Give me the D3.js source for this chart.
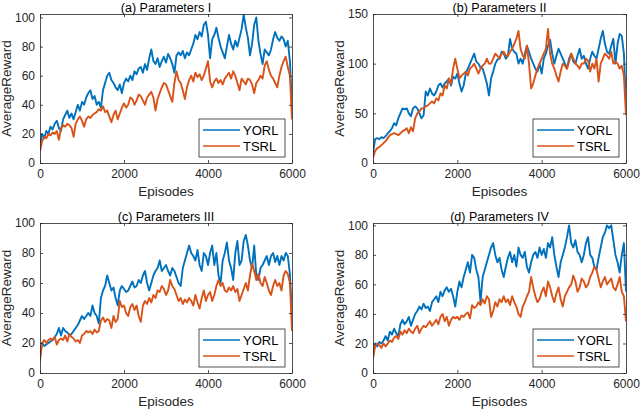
<!DOCTYPE html>
<html><head><meta charset="utf-8">
<script src="https://cdn.jsdelivr.net/npm/d3@7"></script>
<style>
html,body{margin:0;padding:0;background:#fff;}
svg{display:block;font-family:"Liberation Sans",Arial,Helvetica,sans-serif;}
</style></head>
<body><svg id="chart" width="640" height="409"></svg>
<script>
const EPISODE_STEP = 50;
const seriesNames = ["YORL", "TSRL"];
const panelTitles = ["(a) Parameters I", "(b) Parameters II", "(c) Parameters III", "(d) Parameters IV"];
const xTicks = [0, 2000, 4000, 6000];
const yTicksA = [0, 20, 40, 60, 80, 100];
const yTicksB = [0, 50, 100, 150];
const yTicksC = [0, 20, 40, 60, 80, 100];
const yTicksD = [0, 20, 40, 60, 80, 100];
const yMaxes = [102.4, 150, 100, 101.6];

const yorlA = [12,20,17,22,20,25,23,27,29,24,
22,30,33,36,31,34,30,35,40,36,
42,40,45,48,50,44,46,40,42,38,
50,55,60,62,57,55,52,50,54,48,
55,58,56,60,57,63,61,65,66,62,
68,64,72,78,70,68,72,66,70,73,
69,75,72,68,62,74,76,74,77,72,
76,74,78,82,88,85,90,87,95,97,
88,72,85,88,93,86,80,76,72,80,
88,82,78,84,80,86,92,102,93,86,
74,82,95,100,84,75,68,78,76,74,
78,85,90,86,84,87,85,80,84,70,
40];
const tsrlA = [8,15,18,17,20,19,21,20,22,16,
24,26,25,27,26,24,18,27,30,32,
29,25,30,32,31,33,34,35,37,36,
39,35,36,32,28,33,36,30,34,38,
41,38,40,45,44,40,43,47,46,43,
40,45,47,49,45,36,44,48,52,55,
54,50,46,42,55,63,57,55,50,44,
52,57,60,56,62,59,61,57,60,65,
70,56,52,56,58,55,57,54,58,60,
62,58,63,60,55,50,58,56,54,58,
57,54,48,55,57,60,58,67,70,64,
60,58,55,52,60,66,70,73,66,60,
30];
const yorlB = [10,24,25,24,26,25,27,30,32,35,
40,38,45,50,55,54,55,50,47,55,
57,55,50,45,48,72,68,75,70,68,
72,78,80,76,80,82,85,78,87,85,
90,80,72,78,90,95,100,105,110,102,
100,96,95,88,80,68,85,92,100,104,
105,112,110,105,108,125,115,112,110,100,
105,100,110,118,112,105,100,95,92,100,
90,105,110,118,124,110,100,108,115,110,
105,100,95,105,110,102,100,108,115,105,
108,100,95,105,112,108,105,115,125,133,
120,112,110,118,125,100,120,130,128,110,
60];
const tsrlB = [5,12,15,16,18,20,22,25,28,29,
30,29,28,30,32,33,35,30,36,32,
45,50,52,55,55,57,58,60,62,60,
65,63,70,68,78,75,85,80,95,105,
95,85,88,90,92,88,95,97,100,95,
90,95,98,100,105,100,100,105,110,108,
105,110,112,108,108,112,115,120,125,133,
115,108,105,118,100,75,80,88,95,100,
105,110,115,135,110,100,95,88,82,92,
100,98,95,102,110,105,100,98,95,100,
100,105,103,92,100,95,105,82,100,105,
110,108,105,112,100,102,100,95,98,88,
48];
const yorlC = [12,20,18,19,20,21,22,24,26,30,
25,30,28,27,25,26,28,30,32,35,
38,36,38,40,38,45,40,38,33,50,
55,58,65,60,55,57,50,45,55,58,
56,54,55,58,61,57,58,62,60,65,
68,60,55,60,65,68,70,75,68,70,
72,68,65,70,68,64,60,58,70,75,
80,85,80,78,75,82,72,68,80,78,
72,80,85,72,80,65,60,75,80,87,
75,70,62,80,88,72,75,88,92,85,
75,70,85,65,62,70,72,75,78,72,
78,80,74,78,72,78,75,80,78,66,
40];
const tsrlC = [8,20,22,20,22,23,22,24,19,22,
23,22,25,21,26,24,23,21,22,20,
25,26,28,27,28,26,29,27,28,35,
37,34,36,35,30,38,34,36,48,44,
45,40,38,44,46,42,45,38,34,45,
48,46,50,47,52,50,55,54,58,56,
52,55,62,58,56,52,48,50,46,49,
47,50,48,45,52,47,43,50,55,48,
52,54,48,52,58,62,58,60,55,54,
57,55,58,54,56,48,52,56,60,55,
65,73,68,62,66,60,58,64,60,55,
52,58,62,58,60,55,65,68,66,60,
28];
const yorlD = [12,20,18,21,20,22,25,22,28,26,
30,27,25,33,36,33,35,38,32,36,
40,42,45,43,47,44,45,42,48,50,
52,48,55,52,56,58,55,57,52,45,
55,62,58,65,70,75,68,80,78,70,
65,48,65,70,75,80,85,88,80,75,
78,70,65,72,78,82,75,80,72,85,
80,78,82,72,68,75,80,82,78,85,
80,84,78,88,85,92,80,72,65,75,
80,85,92,100,88,85,90,82,80,75,
80,88,92,80,78,72,70,78,85,92,
95,100,98,100,90,80,75,68,80,88,
55];
const tsrlD = [10,18,20,19,17,20,18,20,22,21,
24,25,23,28,26,29,27,30,28,27,
30,32,27,30,32,31,33,35,32,34,
36,33,38,40,35,38,32,36,38,37,
38,36,39,38,40,41,37,46,44,45,
48,46,50,47,52,50,38,42,48,45,
50,48,52,48,50,46,52,48,45,40,
38,45,48,52,55,65,58,52,48,50,
55,58,52,62,58,52,48,54,58,50,
45,52,55,58,60,66,62,55,58,64,
62,58,60,65,68,72,70,64,58,62,
65,60,62,64,58,56,60,65,55,52,
35];

// ---- build panels ----
const colors = {YORL: "#0072BD", TSRL: "#D95319"};
const ink = "#262626";
const panels = [
  {title: panelTitles[0], yorl: yorlA, tsrl: tsrlA, yTicks: yTicksA, yMax: yMaxes[0], left: 40, right: 292, top: 14, bottom: 163},
  {title: panelTitles[1], yorl: yorlB, tsrl: tsrlB, yTicks: yTicksB, yMax: yMaxes[1], left: 373, right: 626, top: 14, bottom: 163},
  {title: panelTitles[2], yorl: yorlC, tsrl: tsrlC, yTicks: yTicksC, yMax: yMaxes[2], left: 40, right: 292, top: 223, bottom: 373},
  {title: panelTitles[3], yorl: yorlD, tsrl: tsrlD, yTicks: yTicksD, yMax: yMaxes[3], left: 373, right: 626, top: 223, bottom: 373}
];

const svg = d3.select("#chart");

panels.forEach(p => {
  const w = p.right - p.left, h = p.bottom - p.top;
  const g = svg.append("g").attr("transform", `translate(${p.left},${p.top})`);
  const x = d3.scaleLinear().domain([0, 6000]).range([0, w]);
  const y = d3.scaleLinear().domain([0, p.yMax]).range([h, 0]);

  const clipId = "clip" + p.left + "_" + p.top;
  g.append("clipPath").attr("id", clipId).append("rect").attr("width", w).attr("height", h);

  const line = d3.line().x((d, i) => x(i * EPISODE_STEP)).y(d => y(d));
  const plot = g.append("g").attr("clip-path", `url(#${clipId})`);
  plot.append("path").datum(p.yorl).attr("d", line)
    .attr("fill", "none").attr("stroke", colors.YORL).attr("stroke-width", 1.9).attr("stroke-linejoin", "round");
  plot.append("path").datum(p.tsrl).attr("d", line)
    .attr("fill", "none").attr("stroke", colors.TSRL).attr("stroke-width", 1.9).attr("stroke-linejoin", "round");

  // axes (box with inward ticks on all sides)
  const styleAxis = sel => {
    sel.selectAll("path.domain").attr("stroke", ink).attr("stroke-width", 0.8);
    sel.selectAll(".tick line").attr("stroke", ink).attr("stroke-width", 0.8);
    sel.selectAll(".tick text").attr("fill", ink).attr("font-size", 12).attr("font-family", "Liberation Sans, Arial, sans-serif");
  };
  g.append("g").attr("transform", `translate(0,${h})`)
    .call(d3.axisBottom(x).tickValues(xTicks).tickSizeInner(-3).tickSizeOuter(0).tickPadding(6).tickFormat(d3.format("d")))
    .call(styleAxis);
  g.append("g")
    .call(d3.axisTop(x).tickValues(xTicks).tickSizeInner(-3).tickSizeOuter(0).tickFormat(""))
    .call(styleAxis);
  g.append("g")
    .call(d3.axisLeft(y).tickValues(p.yTicks).tickSizeInner(-3).tickSizeOuter(0).tickPadding(5).tickFormat(d3.format("d")))
    .call(styleAxis);
  g.append("g").attr("transform", `translate(${w},0)`)
    .call(d3.axisRight(y).tickValues(p.yTicks).tickSizeInner(-3).tickSizeOuter(0).tickFormat(""))
    .call(styleAxis);

  // title & labels
  svg.append("text").attr("x", p.left + w / 2).attr("y", p.top - 2.5)
    .attr("text-anchor", "middle").attr("font-size", 12.5).attr("fill", "#000").text(p.title);
  svg.append("text").attr("x", p.left + w / 2).attr("y", p.bottom + 33)
    .attr("text-anchor", "middle").attr("font-size", 13.5).attr("fill", ink).text("Episodes");
  svg.append("text")
    .attr("transform", `translate(${p.left - 29},${p.top + h / 2}) rotate(-90)`)
    .attr("text-anchor", "middle").attr("font-size", 13.5).attr("fill", ink).text("AverageReward");

  // legend
  const lw = 86, lh = 38;
  const lg = g.append("g").attr("transform", `translate(${w - lw - 7},${h - lh - 6})`);
  lg.append("rect").attr("width", lw).attr("height", lh).attr("fill", "#fff").attr("stroke", ink).attr("stroke-width", 0.8);
  seriesNames.forEach((name, i) => {
    const yy = 11 + i * 16;
    lg.append("line").attr("x1", 4).attr("x2", 41).attr("y1", yy).attr("y2", yy)
      .attr("stroke", colors[name]).attr("stroke-width", 1.5);
    lg.append("text").attr("x", 44).attr("y", yy).attr("dy", "0.35em")
      .attr("font-size", 13).attr("fill", "#000").text(name);
  });
});
</script></body></html>
